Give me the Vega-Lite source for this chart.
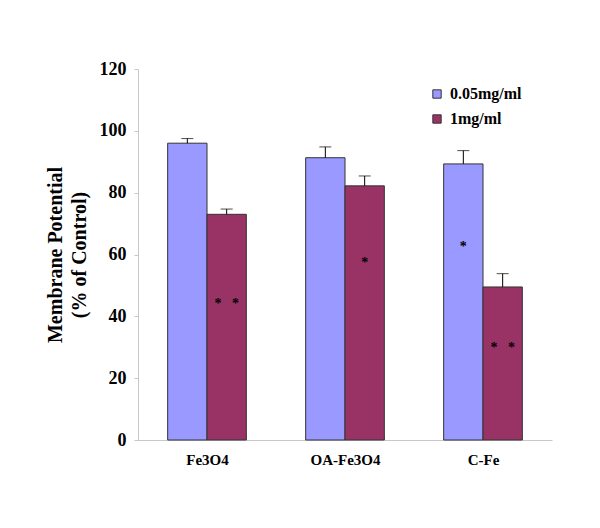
{
  "$schema": "https://vega.github.io/schema/vega-lite/v6.json",
  "width": 414,
  "height": 371,
  "autosize": "none",
  "padding": {"left": 138, "top": 69, "right": 48, "bottom": 88},
  "background": "white",
  "config": {
    "view": {"stroke": null},
    "font": "Liberation Serif"
  },
  "data": {
    "values": [
      {"group": "Fe3O4", "dose": "0.05mg/ml", "value": 96.0, "err": 97.5, "star": "", "starY": 0},
      {"group": "Fe3O4", "dose": "1mg/ml", "value": 73.0, "err": 74.7, "star": "*\u00a0\u00a0\u00a0*", "starY": 44.0},
      {"group": "OA-Fe3O4", "dose": "0.05mg/ml", "value": 91.3, "err": 94.8, "star": "", "starY": 0},
      {"group": "OA-Fe3O4", "dose": "1mg/ml", "value": 82.2, "err": 85.4, "star": "*", "starY": 57.4},
      {"group": "C-Fe", "dose": "0.05mg/ml", "value": 89.3, "err": 93.6, "star": "*", "starY": 62.3},
      {"group": "C-Fe", "dose": "1mg/ml", "value": 49.5, "err": 53.8, "star": "*\u00a0\u00a0\u00a0*", "starY": 29.8}
    ]
  },
  "encoding": {
    "x": {
      "field": "group", "type": "nominal", "sort": ["Fe3O4", "OA-Fe3O4", "C-Fe"],
      "scale": {"paddingInner": 0.43, "paddingOuter": 0.215},
      "axis": {
        "title": null, "labelAngle": 0, "labelFont": "Liberation Serif", "labelFontWeight": "bold",
        "labelFontSize": 15, "labelColor": "black", "labelPadding": 17,
        "domainColor": "#c8c8c8", "tickColor": "#c8c8c8", "tickBand": "extent", "tickSize": -5
      }
    },
    "xOffset": {"field": "dose", "type": "nominal", "sort": ["0.05mg/ml", "1mg/ml"]}
  },
  "layer": [
    {
      "mark": {"type": "bar", "stroke": "#333333", "strokeWidth": 1},
      "encoding": {
        "y": {
          "field": "value", "type": "quantitative",
          "scale": {"domain": [0, 120]},
          "axis": {
            "values": [0, 20, 40, 60, 80, 100, 120], "grid": false,
            "title": ["Membrane Potential", "(% of Control)"],
            "titleFont": "Liberation Serif", "titleFontWeight": "bold", "titleFontSize": 20,
            "titleColor": "black", "titlePadding": 10, "titleLineHeight": 24,
            "labelFont": "Liberation Serif", "labelFontWeight": "bold", "labelFontSize": 18,
            "labelColor": "black", "labelPadding": 8,
            "domainColor": "#c8c8c8", "tickColor": "#c8c8c8", "tickSize": 4
          }
        },
        "color": {
          "field": "dose", "type": "nominal", "sort": ["0.05mg/ml", "1mg/ml"],
          "scale": {"domain": ["0.05mg/ml", "1mg/ml"], "range": ["#9999FF", "#993366"]},
          "legend": {
            "title": null, "orient": "none", "legendX": 291, "legendY": 17,
            "symbolType": "square", "symbolSize": 70, "symbolStrokeColor": "#333333", "symbolStrokeWidth": 1,
            "labelFont": "Liberation Serif", "labelFontWeight": "bold", "labelFontSize": 16,
            "labelColor": "black", "rowPadding": 9, "labelOffset": 5
          }
        }
      }
    },
    {
      "mark": {"type": "rule", "color": "black", "strokeWidth": 1},
      "encoding": {
        "y": {"field": "value", "type": "quantitative"},
        "y2": {"field": "err"}
      }
    },
    {
      "mark": {"type": "tick", "color": "black", "thickness": 1, "size": 12, "orient": "horizontal"},
      "encoding": {
        "y": {"field": "err", "type": "quantitative"}
      }
    },
    {
      "mark": {"type": "text", "fontSize": 14, "fontWeight": "bold", "color": "black", "font": "Liberation Serif", "baseline": "middle"},
      "encoding": {
        "y": {"field": "starY", "type": "quantitative"},
        "text": {"field": "star"}
      }
    }
  ]
}
